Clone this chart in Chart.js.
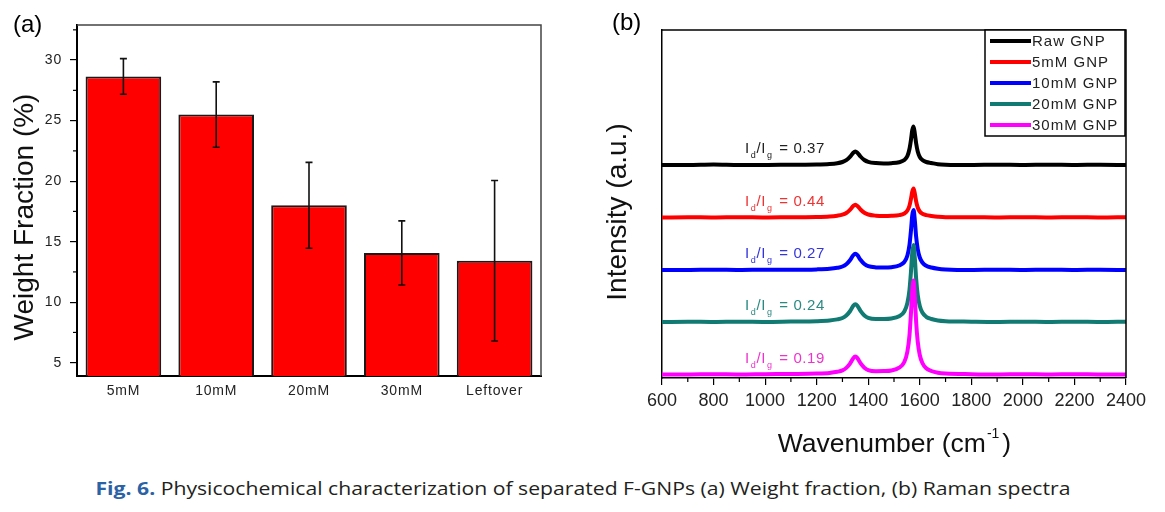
<!DOCTYPE html>
<html>
<head>
<meta charset="utf-8">
<script src="https://cdn.jsdelivr.net/npm/chart.js@4.4.0/dist/chart.umd.min.js"></script>
<style>
  body { margin: 0; background: #fff; width: 1165px; height: 512px; overflow: hidden; position: relative; font-family: 'Liberation Sans', Arial, sans-serif; }
  #wrapA { position: absolute; left: 0; top: 0; width: 590px; height: 460px; }
  #wrapB { position: absolute; left: 590px; top: 0; width: 575px; height: 470px; }
  .panel { position: absolute; font-size: 24px; line-height: 24px; color: #000; }
  #caption { position: absolute; left: 0; top: 478px; width: 1165px; text-align: center; font-family: 'Open Sans', sans-serif; font-size: 18.5px; line-height: 20px; color: #231f20; white-space: nowrap; }
  #caption span { display: inline-block; transform-origin: center; }
  #caption b { color: #2b62a6; font-weight: 700; }
</style>
</head>
<body>
<div id="wrapA"><canvas id="chartA"></canvas></div>
<div id="wrapB"><canvas id="chartB"></canvas></div>
<div class="panel" style="left:13px; top:12px;">(a)</div>
<div class="panel" style="left:612px; top:10px;">(b)</div>
<div id="caption"><span id="capText"><b>Fig. 6.</b> Physicochemical characterization of separated F-GNPs (a) Weight fraction, (b) Raman spectra</span></div>

<script>
// (a) weight fraction
const categories = ['5mM', '10mM', '20mM', '30mM', 'Leftover'];
const weightFraction = [28.65, 25.5, 18.0, 14.07, 13.42];
const weightError = [1.47, 2.7, 3.55, 2.65, 6.63];
const yMinorA = [7.5, 12.5, 17.5, 22.5, 27.5, 32.5];

// (b) raman spectra (intensity above each baseline, a.u.)
const wavenumber = [600, 700, 800, 900, 1000, 1100, 1200, 1250, 1280, 1300, 1315, 1330, 1342, 1350, 1358, 1370, 1385, 1400, 1430, 1460, 1490, 1520, 1540, 1552, 1560, 1566, 1571, 1576, 1581, 1586, 1592, 1600, 1610, 1625, 1645, 1670, 1700, 1800, 1900, 2000, 2100, 2200, 2300, 2400];
const rawGNP = [0, 0, 0.5, 0, 0, 0.3, 0.5, 1, 1.8, 3, 4.8, 8.3, 12.2, 13.4, 12.3, 8.5, 5, 3.2, 1.9, 1.6, 1.8, 2.8, 5, 9, 16, 25.5, 35, 38.5, 31, 21.5, 13.5, 8, 5, 3, 2, 0.8, 0.3, 0, 0.3, 0, 0.3, 0, 0.3, 0];
const gnp5mM = [0, 0.3, 0, 0.3, 0, 0.3, 0.5, 1, 1.8, 2.8, 4.5, 7.9, 11.5, 12.8, 11.6, 8, 4.7, 3, 1.8, 1.5, 1.7, 2.4, 4, 7, 11.8, 18.8, 26, 29, 23.5, 16, 10, 6, 3.8, 2.4, 1.6, 0.8, 0.3, 0.3, 0, 0.3, 0, 0.3, 0, 0.3];
const gnp10mM = [0, 0, 0.3, 0, 0.3, 0.3, 0.6, 1.2, 2.2, 3.5, 5.8, 10, 14.8, 16.3, 14.9, 10.2, 6, 3.8, 2.6, 2.4, 2.8, 4.5, 8, 14.5, 25, 40, 55, 60, 49, 33, 21, 12.5, 7.5, 4.2, 2.5, 1.3, 0.6, 0, 0.3, 0, 0.3, 0, 0.3, 0];
const gnp20mM = [0, 0.3, 0, 0.3, 0, 0.4, 0.8, 1.5, 2.6, 4, 6.5, 11, 16.2, 17.8, 16.3, 11.2, 6.6, 4.2, 3, 3, 3.5, 5.8, 10.5, 19, 32, 51, 70, 77, 63, 43, 27, 16, 9.5, 5.2, 3, 1.5, 0.8, 0.3, 0, 0.3, 0, 0.3, 0, 0.3];
const gnp30mM = [0, 0, 0.3, 0, 0.3, 0.5, 0.9, 1.6, 2.7, 4.1, 6.6, 11.2, 16.3, 17.9, 16.4, 11.3, 6.8, 4.4, 3.3, 3.4, 4, 6.8, 12.5, 23, 39, 62, 85, 94, 77, 52, 33, 19.5, 11.5, 6.2, 3.5, 1.8, 1, 0.3, 0, 0.3, 0, 0.3, 0, 0];
const spectra = [rawGNP, gnp5mM, gnp10mM, gnp20mM, gnp30mM];
const seriesNames = ['Raw GNP', '5mM GNP', '10mM GNP', '20mM GNP', '30mM GNP'];
const stackOffset = [213, 160.5, 108, 56, 3.5];
const idIgRatio = ['0.37', '0.44', '0.27', '0.24', '0.19'];
const xMinorB = [700, 900, 1100, 1300, 1500, 1700, 1900, 2100, 2300];

const lineColors = ['#000000', '#ff0000', '#0000ff', '#117a72', '#ff00ff'];
const labelColors = ['#222222', '#ee3333', '#3434dd', '#2a8a82', '#ee33cc'];
const FONT = "'Liberation Sans', Arial, sans-serif";

// error bars + frame + minor ticks + title for (a)
const decorA = {
  id: 'decorA',
  beforeDraw(chart) { chart.ctx.letterSpacing = '0.8px'; },
  afterDraw(chart) {
    const { ctx, chartArea: a, scales: { y } } = chart;
    const meta = chart.getDatasetMeta(0);
    ctx.save();
    ctx.letterSpacing = '0px';
    ctx.strokeStyle = '#111';
    ctx.lineWidth = 1.6;
    meta.data.forEach((bar, i) => {
      const top = y.getPixelForValue(weightFraction[i] + weightError[i]);
      const bot = y.getPixelForValue(weightFraction[i] - weightError[i]);
      ctx.beginPath();
      ctx.moveTo(bar.x, top); ctx.lineTo(bar.x, bot);
      ctx.moveTo(bar.x - 3.5, top); ctx.lineTo(bar.x + 3.5, top);
      ctx.moveTo(bar.x - 3.5, bot); ctx.lineTo(bar.x + 3.5, bot);
      ctx.stroke();
    });
    // top / right frame
    ctx.strokeStyle = '#444';
    ctx.lineWidth = 1.5;
    ctx.beginPath();
    ctx.moveTo(a.left, a.top); ctx.lineTo(a.right, a.top); ctx.lineTo(a.right, a.bottom);
    ctx.stroke();
    // minor ticks
    ctx.strokeStyle = '#000';
    ctx.lineWidth = 1.2;
    yMinorA.forEach(v => {
      const py = y.getPixelForValue(v);
      ctx.beginPath(); ctx.moveTo(a.left - 4, py); ctx.lineTo(a.left, py); ctx.stroke();
    });
    // y title
    ctx.fillStyle = '#111';
    ctx.font = '28px ' + FONT;
    ctx.textAlign = 'center';
    ctx.textBaseline = 'alphabetic';
    ctx.translate(33, 217);
    ctx.rotate(-Math.PI / 2);
    ctx.fillText('Weight Fraction (%)', 0, 0);
    ctx.restore();
  }
};

new Chart(document.getElementById('chartA'), {
  type: 'bar',
  data: {
    labels: categories,
    datasets: [{
      data: weightFraction,
      backgroundColor: '#ff0000',
      borderColor: '#1a1a1a',
      borderWidth: 2,
      categoryPercentage: 1,
      barPercentage: 0.815
    }]
  },
  options: {
    responsive: true,
    maintainAspectRatio: false,
    animation: false,
    devicePixelRatio: 1,
    layout: { padding: { left: 0, top: 25, right: 49, bottom: 0 } },
    plugins: { legend: { display: false }, tooltip: { enabled: false } },
    scales: {
      x: {
        grid: { display: false, drawTicks: false },
        border: { display: true, color: '#000', width: 2 },
        ticks: { color: '#222', font: { family: FONT, size: 14 }, padding: 7 },
        afterFit: s => { s.height = 84; }
      },
      y: {
        min: 3.9,
        max: 32.9,
        grid: { display: true, drawOnChartArea: false, drawTicks: true, tickLength: 7, color: '#000', lineWidth: 1.2 },
        border: { display: true, color: '#000', width: 2 },
        ticks: { stepSize: 5, includeBounds: false, color: '#222', font: { family: FONT, size: 14 }, padding: 8 },
        afterFit: s => { s.width = 77; }
      }
    }
  },
  plugins: [decorA]
});

// frame, minor ticks, legend, ratio labels and titles for (b)
function drawRatio(ctx, x, y, color, value) {
  ctx.fillStyle = color;
  ctx.textAlign = 'left';
  ctx.textBaseline = 'alphabetic';
  let cx = x;
  const big = '15px ' + FONT, small = '9px ' + FONT;
  ctx.font = big; ctx.fillText('I', cx, y); cx += ctx.measureText('I').width + 1;
  ctx.font = small; ctx.fillText('d', cx, y + 5); cx += ctx.measureText('d').width;
  ctx.font = big; ctx.fillText('/I', cx, y); cx += ctx.measureText('/I').width + 1;
  ctx.font = small; ctx.fillText('g', cx, y + 5); cx += ctx.measureText('g').width + 2;
  ctx.font = big; ctx.fillText(' = ' + value, cx, y);
}

const decorB = {
  id: 'decorB',
  afterDraw(chart) {
    const { ctx, chartArea: a, scales: { x, y } } = chart;
    ctx.save();
    ctx.strokeStyle = '#000';
    ctx.lineWidth = 1.5;
    ctx.beginPath();
    ctx.moveTo(a.left, a.top); ctx.lineTo(a.right, a.top); ctx.lineTo(a.right, a.bottom);
    ctx.stroke();
    ctx.lineWidth = 1.2;
    xMinorB.forEach(v => {
      const px = x.getPixelForValue(v);
      ctx.beginPath(); ctx.moveTo(px, a.bottom); ctx.lineTo(px, a.bottom + 4); ctx.stroke();
    });

    // I_d/I_g labels
    ctx.letterSpacing = '0.6px';
    spectra.forEach((s, i) => {
      const py = y.getPixelForValue(stackOffset[i]) - 12;
      drawRatio(ctx, x.getPixelForValue(922), py, labelColors[i], idIgRatio[i]);
    });

    // legend
    const lx = 395, rx = a.right - 1, ty = a.top, by = 136;
    ctx.fillStyle = '#fff';
    ctx.fillRect(lx, ty, rx - lx, by - ty);
    ctx.strokeStyle = '#000';
    ctx.lineWidth = 1.5;
    ctx.strokeRect(lx, ty, rx - lx, by - ty);
    ctx.letterSpacing = '1px';
    ctx.font = '15px ' + FONT;
    ctx.textAlign = 'left';
    ctx.textBaseline = 'middle';
    seriesNames.forEach((name, i) => {
      const ry = 41 + i * 21;
      ctx.strokeStyle = lineColors[i];
      ctx.lineWidth = 4;
      ctx.beginPath(); ctx.moveTo(400, ry); ctx.lineTo(441, ry); ctx.stroke();
      ctx.fillStyle = '#222';
      ctx.fillText(name, 442, ry + 1);
    });

    // axis titles
    ctx.letterSpacing = '0px';
    ctx.fillStyle = '#111';
    ctx.textBaseline = 'alphabetic';
    ctx.font = '26.5px ' + FONT;
    const main = 'Wavenumber (cm', sup = '-1', close = ')';
    const wMain = ctx.measureText(main).width, wClose = ctx.measureText(close).width;
    ctx.font = '14px ' + FONT;
    const wSup = ctx.measureText(sup).width + 3;
    let tx = (a.left + a.right) / 2 - (wMain + wSup + wClose) / 2;
    ctx.font = '26.5px ' + FONT;
    ctx.fillText(main, tx, 452); tx += wMain + 1;
    ctx.font = '14px ' + FONT;
    ctx.fillText(sup, tx, 438); tx += wSup;
    ctx.font = '26.5px ' + FONT;
    ctx.fillText(close, tx, 452);

    ctx.font = '28px ' + FONT;
    ctx.textAlign = 'center';
    ctx.translate(36, 212);
    ctx.rotate(-Math.PI / 2);
    ctx.fillText('Intensity (a.u.)', 0, 0);
    ctx.restore();
  }
};

new Chart(document.getElementById('chartB'), {
  type: 'line',
  data: {
    datasets: spectra.map((s, i) => ({
      label: seriesNames[i],
      data: wavenumber.map((w, j) => ({ x: w, y: s[j] + stackOffset[i] })),
      borderColor: lineColors[i],
      borderWidth: 4,
      pointRadius: 0,
      fill: false,
      cubicInterpolationMode: 'monotone',
      order: spectra.length - 1 - i
    }))
  },
  options: {
    responsive: true,
    maintainAspectRatio: false,
    animation: false,
    devicePixelRatio: 1,
    layout: { padding: { left: 0, top: 30, right: 39, bottom: 0 } },
    plugins: { legend: { display: false }, tooltip: { enabled: false } },
    scales: {
      x: {
        type: 'linear',
        min: 600,
        max: 2400,
        grid: { display: true, drawOnChartArea: false, drawTicks: true, tickLength: 7, color: '#000', lineWidth: 1.2 },
        border: { display: true, color: '#000', width: 1.5 },
        ticks: { stepSize: 200, color: '#222', font: { family: FONT, size: 18 }, padding: 5, maxRotation: 0, callback: v => String(v) },
        afterFit: s => { s.height = 92; }
      },
      y: {
        min: 0,
        max: 348,
        grid: { display: false },
        border: { display: true, color: '#000', width: 1.5 },
        ticks: { display: false },
        afterFit: s => { s.width = 72; }
      }
    }
  },
  plugins: [decorB]
});

// fit caption to the reference width
const cap = document.getElementById('capText');
const w = cap.getBoundingClientRect().width;
cap.style.transform = 'scaleX(' + (975 / w) + ')';
</script>
</body>
</html>
